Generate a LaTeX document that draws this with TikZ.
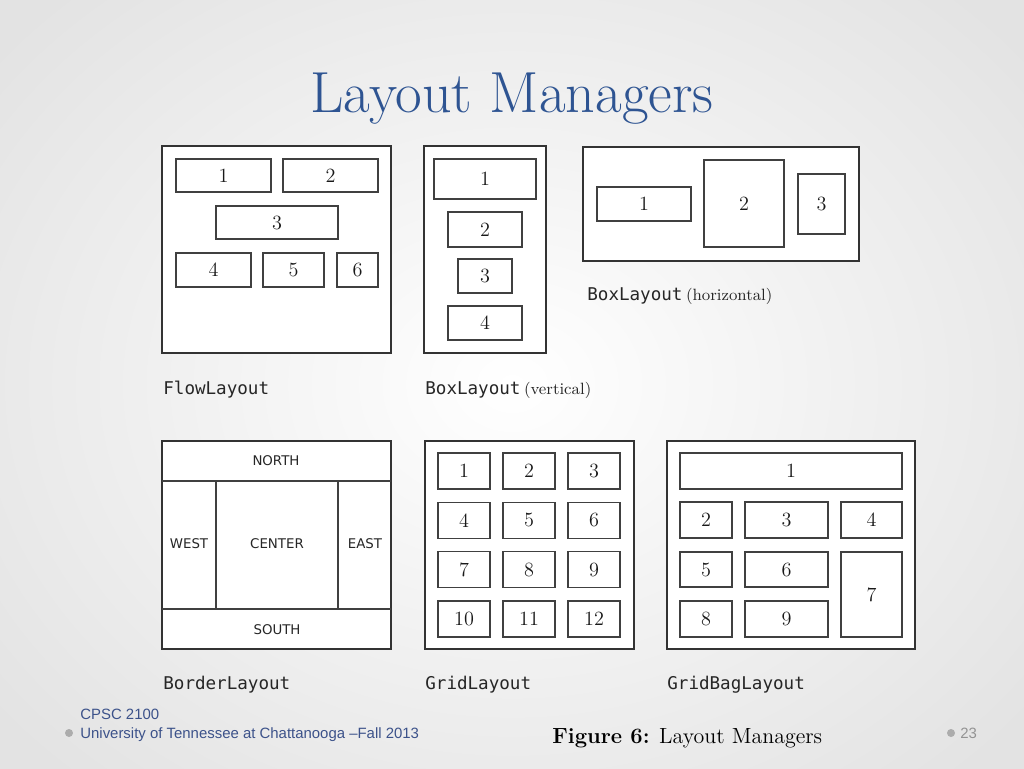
\documentclass[tikz,border=0pt]{standalone}
\usepackage{fontspec}
\newfontfamily\monofont{DejaVu Sans Mono}
\newfontfamily\regionfont{DejaVu Sans}
\newfontfamily\footfont{Liberation Sans}
\definecolor{titleblue}{RGB}{46,84,146}
\definecolor{footblue}{RGB}{60,82,138}
\tikzset{
  win/.style={draw=black!80, line width=0.85pt, fill=white},
  comp/.style={draw=black!75, line width=0.85pt},
  num/.style={font=\fontsize{11.5}{13}\selectfont, text=black!90},
  region/.style={font=\regionfont\fontsize{7.6}{10}\selectfont, text=black!85},
  mgrname/.style={anchor=base west, inner sep=0pt, font=\monofont\fontsize{10}{12}\selectfont, text=black!85},
  foot/.style={anchor=base west, inner sep=0pt, text=footblue, font=\footfont\fontsize{8.5}{10}\selectfont}
}

\begin{document}
\begin{tikzpicture}[x=0.02cm, y=-0.02cm]
  \useasboundingbox (0,0) rectangle (1024,768);
  \shade[inner color=white, outer color=gray!22] (-150,-150) rectangle (1174,918);

  \node[anchor=base, inner sep=0pt, text=titleblue, font=\fontsize{33}{38}\selectfont] (title) at (512,112) {Layout Managers};

  % FlowLayout
  \draw[win] (162,146) rectangle (391,353);
  \draw[comp] (176,159) rectangle (271,192) node[midway, num] (f1) {1};
  \draw[comp] (283,159) rectangle (378,192) node[midway, num] (f2) {2};
  \draw[comp] (216,206) rectangle (338,239) node[midway, num] (f3) {3};
  \draw[comp] (176,253) rectangle (251,287) node[midway, num] (f4) {4};
  \draw[comp] (263,253) rectangle (324,287) node[midway, num] (f5) {5};
  \draw[comp] (337,253) rectangle (378,287) node[midway, num] (f6) {6};
  \node[mgrname] (flowname) at (163,394) {FlowLayout};

  % BoxLayout, vertical
  \draw[win] (424,146) rectangle (546,353);
  \draw[comp] (434,159) rectangle (536,199) node[midway, num] (v1) {1};
  \draw[comp] (448,212) rectangle (522,247) node[midway, num] (v2) {2};
  \draw[comp] (458,259) rectangle (512,293) node[midway, num] (v3) {3};
  \draw[comp] (448,306) rectangle (522,340) node[midway, num] (v4) {4};
  \node[mgrname] (vboxname) at (425,394) {BoxLayout\hspace{2pt}{\rmfamily\fontsize{9.3}{11}\selectfont(vertical)}};

  % BoxLayout, horizontal
  \draw[win] (583,147) rectangle (859,261);
  \draw[comp] (597,187) rectangle (691,221) node[midway, num] (h1) {1};
  \draw[comp] (704,160) rectangle (784,247) node[midway, num] (h2) {2};
  \draw[comp] (798,174) rectangle (845,234) node[midway, num] (h3) {3};
  \node[mgrname] (hboxname) at (587,300) {BoxLayout\hspace{2pt}{\rmfamily\fontsize{9.3}{11}\selectfont(horizontal)}};

  % BorderLayout
  \coordinate (bnw) at (162,441);
  \coordinate (bse) at (391,649);
  \draw[win] (bnw) rectangle (bse);
  \draw[comp] (162,481) -- (391,481);
  \draw[comp] (162,609) -- (391,609);
  \draw[comp] (216,481) -- (216,609);
  \draw[comp] (338,481) -- (338,609);
  \node[region] (north) at (276,461) {NORTH};
  \node[region] (west) at (189,544) {WEST};
  \node[region] (center) at (277,544) {CENTER};
  \node[region] (east) at (365,544) {EAST};
  \node[region] (south) at (277,630) {SOUTH};
  \node[mgrname] (bordername) at (163,689) {BorderLayout};

  % GridLayout
  \draw[win] (425,441) rectangle (634,649);
  \foreach \r in {0,...,3}
    \foreach \c in {0,...,2} {
      \pgfmathtruncatemacro{\n}{3*\r+\c+1}
      \draw[comp] ({438+65*\c},{453+49.3*\r}) rectangle ++(52,36) node[midway, num] (g\n) {\n};
    }
  \node[mgrname] (gridname) at (425,689) {GridLayout};

  % GridBagLayout
  \draw[win] (667,441) rectangle (915,649);
  \draw[comp] (680,453) rectangle (902,489) node[midway, num] (gb1) {1};
  \draw[comp] (680,502) rectangle (732,538) node[midway, num] (gb2) {2};
  \draw[comp] (745,502) rectangle (828,538) node[midway, num] (gb3) {3};
  \draw[comp] (841,502) rectangle (902,538) node[midway, num] (gb4) {4};
  \draw[comp] (680,552) rectangle (732,587) node[midway, num] (gb5) {5};
  \draw[comp] (745,552) rectangle (828,587) node[midway, num] (gb6) {6};
  \draw[comp] (841,552) rectangle (902,637) node[midway, num] (gb7) {7};
  \draw[comp] (680,601) rectangle (732,637) node[midway, num] (gb8) {8};
  \draw[comp] (745,601) rectangle (828,637) node[midway, num] (gb9) {9};
  \node[mgrname] (gridbagname) at (667,689) {GridBagLayout};

  % footer
  \node[foot] (course) at (80,719) {CPSC 2100};
  \fill[gray!65] (69,733) circle (4);
  \node[foot] (school) at (80,738) {University of Tennessee at Chattanooga –Fall 2013};
  \node[anchor=base west, inner sep=0pt, font=\fontsize{12.5}{15}\selectfont] (figcap) at (552,743) {\textbf{Figure 6:} Layout Managers};
  \fill[gray!65] (951,733) circle (4);
  \node[foot, text=gray!85] (pagenum) at (960,738) {23};
\end{tikzpicture}
\end{document}
